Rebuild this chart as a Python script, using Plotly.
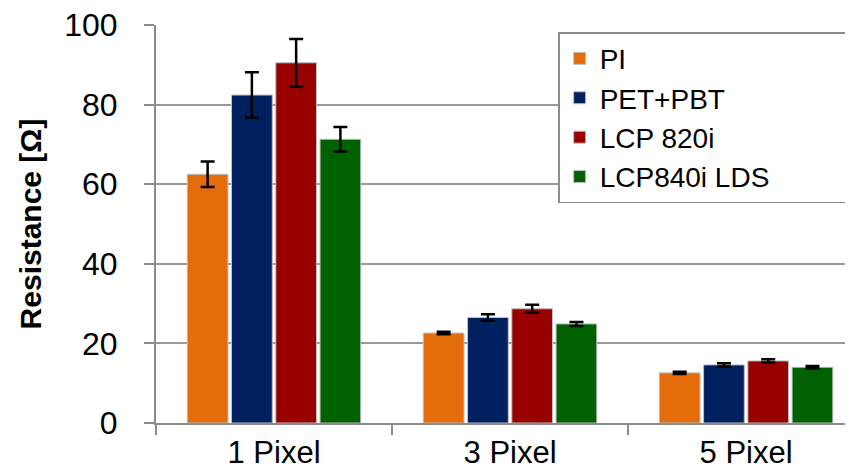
import plotly.graph_objects as go

categories = ["1 Pixel", "3 Pixel", "5 Pixel"]
series_names = ["PI", "PET+PBT", "LCP 820i", "LCP840i LDS"]
pi_vals = [62.5, 22.6, 12.6]
pi_err = [3.2, 0.3, 0.3]
pet_vals = [82.4, 26.5, 14.6]
pet_err = [5.7, 0.8, 0.4]
lcp820_vals = [90.5, 28.7, 15.6]
lcp820_err = [6.0, 1.0, 0.4]
lcp840_vals = [71.3, 24.9, 14.0]
lcp840_err = [3.1, 0.5, 0.3]
colors = ["#E46C0A", "#002060", "#990000", "#006100"]
y_ticks = [0, 20, 40, 60, 80, 100]

values = [pi_vals, pet_vals, lcp820_vals, lcp840_vals]
errors = [pi_err, pet_err, lcp820_err, lcp840_err]

FONT = "Liberation Sans, Arial, sans-serif"
PAD = "\u00a0" * 9  # widen the legend box toward the reference's width

fig = go.Figure()
for name, v, e, c in zip(series_names, values, errors, colors):
    fig.add_trace(go.Bar(
        x=categories, y=v, name=name + (PAD if name == series_names[-1] else ""),
        marker=dict(color=c, line=dict(color="#BFBFBF", width=1)),
        error_y=dict(type="data", array=e, visible=True, color="black",
                     thickness=2.5, width=7),
    ))

# page body has an 8px margin: figure drawn at (8, 8) in the window
fig.update_layout(
    width=845, height=466,
    margin=dict(l=148, r=0, t=17, b=51),
    paper_bgcolor="white", plot_bgcolor="white",
    barmode="group", bargap=0.25, bargroupgap=0.08,
    font=dict(family=FONT, color="black", size=30),
    showlegend=True,
    legend=dict(x=0.577, y=0.982, xanchor="left", yanchor="top",
                bgcolor="white", bordercolor="#8C8C8C", borderwidth=1.5,
                font=dict(size=28, family=FONT, color="black"),
                itemwidth=30, tracegroupgap=0),
)
fig.update_xaxes(
    type="category", range=[-0.5, 2.453],
    showline=True, linecolor="#8C8C8C", linewidth=2,
    ticks="outside", tickson="boundaries", ticklen=10, tickcolor="#8C8C8C", tickwidth=2,
    showgrid=False, tickfont=dict(size=31, family=FONT), automargin=False,
    ticklabelstandoff=1, ticklabeloverflow="allow",
)
fig.update_yaxes(
    range=[0, 100], tickvals=y_ticks,
    showline=True, linecolor="#8C8C8C", linewidth=2,
    ticks="outside", ticklen=10, tickcolor="#8C8C8C", tickwidth=2,
    showgrid=True, gridcolor="#9A9A9A", gridwidth=1.5,
    zeroline=False,
    tickfont=dict(size=32, family=FONT), automargin=False,
    ticklabelstandoff=20, ticklabeloverflow="allow",
    title=dict(text="<b>Resistance [Ω]</b>", font=dict(size=30, family=FONT), standoff=14),
)

fig.write_html("out.html")
